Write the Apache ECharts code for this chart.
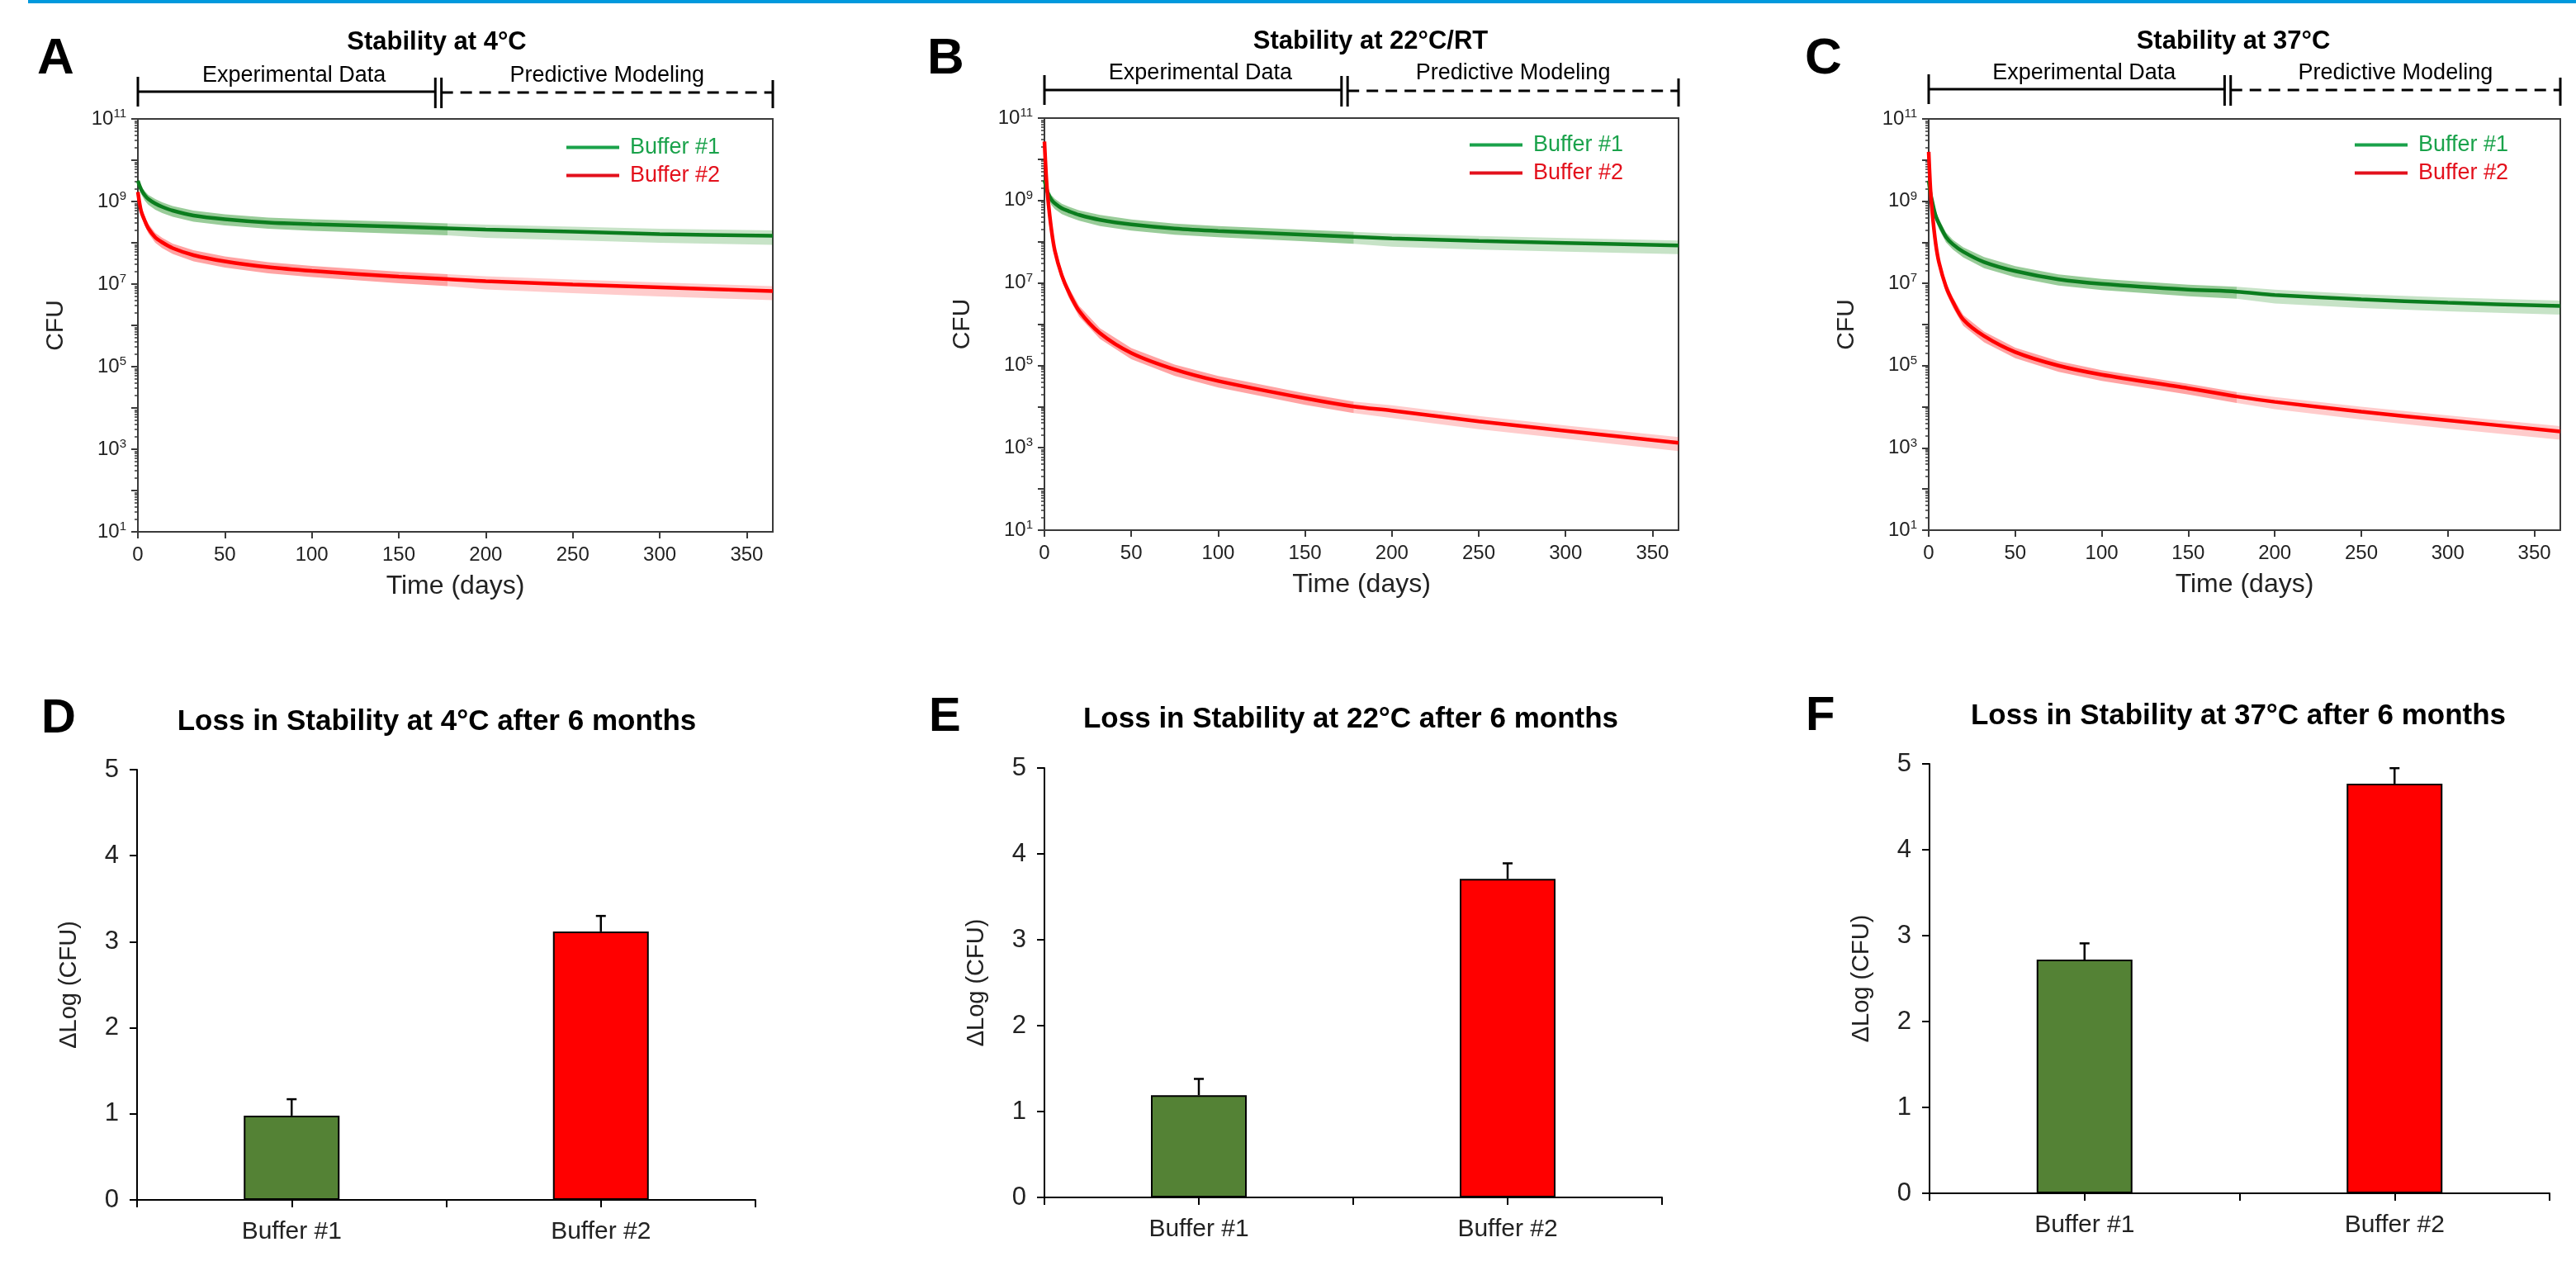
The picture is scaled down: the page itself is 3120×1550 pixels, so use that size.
<!DOCTYPE html>
<html><head><meta charset="utf-8">
<script src="https://cdn.jsdelivr.net/npm/echarts@6/dist/echarts.min.js"></script>
<style>html,body{margin:0;padding:0;background:#fff}#c{width:3120px;height:1550px}</style>
</head><body><div id="c"></div>
<script>
// ================= DATA =================
// time points (days) shared by all curves
const days = [0, 1, 2, 4, 6, 10, 14, 20, 32, 50, 75, 100, 150, 178, 200, 250, 300, 365];
// log10(CFU)
// Panel A (4 °C)
const aGreenMid = [9.50, 9.38, 9.28, 9.15, 9.06, 8.95, 8.87, 8.78, 8.66, 8.57, 8.49, 8.45, 8.39, 8.35, 8.32, 8.27, 8.21, 8.17];
const aGreenHi  = [9.55, 9.46, 9.37, 9.25, 9.16, 9.06, 8.98, 8.89, 8.78, 8.69, 8.61, 8.57, 8.51, 8.47, 8.44, 8.39, 8.34, 8.30];
const aGreenLo  = [9.44, 9.29, 9.17, 9.02, 8.92, 8.80, 8.72, 8.63, 8.51, 8.42, 8.34, 8.29, 8.22, 8.18, 8.12, 8.06, 8.00, 7.95];
const aRedMid   = [9.23, 8.95, 8.75, 8.53, 8.35, 8.13, 8.01, 7.87, 7.70, 7.55, 7.41, 7.32, 7.18, 7.12, 7.07, 6.99, 6.92, 6.83];
const aRedHi    = [9.28, 9.03, 8.84, 8.63, 8.46, 8.24, 8.12, 7.98, 7.82, 7.67, 7.53, 7.44, 7.30, 7.24, 7.19, 7.11, 7.04, 6.95];
const aRedLo    = [9.16, 8.85, 8.64, 8.41, 8.23, 8.00, 7.87, 7.73, 7.55, 7.40, 7.26, 7.17, 7.02, 6.95, 6.87, 6.78, 6.70, 6.61];
// Panel B (22 °C / RT)
const bGreenMid = [9.49, 9.33, 9.18, 9.02, 8.93, 8.81, 8.74, 8.65, 8.53, 8.42, 8.32, 8.26, 8.17, 8.12, 8.08, 8.02, 7.97, 7.91];
const bGreenHi  = [9.54, 9.41, 9.28, 9.13, 9.04, 8.92, 8.85, 8.76, 8.65, 8.54, 8.44, 8.38, 8.29, 8.24, 8.20, 8.14, 8.09, 8.03];
const bGreenLo  = [9.43, 9.24, 9.07, 8.89, 8.79, 8.67, 8.60, 8.51, 8.38, 8.27, 8.17, 8.11, 8.01, 7.95, 7.88, 7.81, 7.76, 7.70];
const bRedMid   = [10.43, 9.60, 9.05, 8.30, 7.78, 7.18, 6.78, 6.32, 5.78, 5.30, 4.90, 4.62, 4.20, 4.00, 3.90, 3.64, 3.41, 3.12];
const bRedHi    = [10.48, 9.67, 9.13, 8.39, 7.88, 7.29, 6.89, 6.44, 5.90, 5.42, 5.02, 4.74, 4.32, 4.12, 4.03, 3.77, 3.54, 3.26];
const bRedLo    = [10.37, 9.52, 8.96, 8.19, 7.66, 7.05, 6.64, 6.18, 5.64, 5.15, 4.74, 4.46, 4.04, 3.84, 3.72, 3.45, 3.22, 2.92];
// Panel C (37 °C)
const cGreenMid = [9.50, 9.20, 9.00, 8.65, 8.45, 8.13, 7.95, 7.77, 7.52, 7.30, 7.10, 6.99, 6.85, 6.80, 6.72, 6.61, 6.53, 6.45];
const cGreenHi  = [9.55, 9.28, 9.09, 8.76, 8.56, 8.24, 8.06, 7.88, 7.64, 7.42, 7.22, 7.11, 6.97, 6.92, 6.85, 6.74, 6.66, 6.58];
const cGreenLo  = [9.44, 9.11, 8.89, 8.53, 8.32, 8.00, 7.82, 7.63, 7.37, 7.15, 6.95, 6.84, 6.69, 6.63, 6.51, 6.40, 6.32, 6.24];
const cRedMid   = [10.20, 9.30, 8.75, 7.98, 7.50, 6.92, 6.55, 6.12, 5.72, 5.33, 5.00, 4.78, 4.45, 4.25, 4.12, 3.88, 3.67, 3.40];
const cRedHi    = [10.26, 9.39, 8.85, 8.09, 7.61, 7.03, 6.66, 6.23, 5.83, 5.44, 5.11, 4.89, 4.56, 4.36, 4.24, 4.00, 3.79, 3.53];
const cRedLo    = [10.13, 9.19, 8.63, 7.85, 7.37, 6.78, 6.41, 5.97, 5.57, 5.18, 4.85, 4.63, 4.30, 4.09, 3.94, 3.69, 3.47, 3.20];

const expEndDay = 178;                    // end of experimental band
const bracketDays = [0, 171, 174.5, 365]; // bracket: start, break1, break2, end

// bar panels (ΔLog CFU after 6 months)
const barCategories = ['Buffer #1', 'Buffer #2'];
const dLoss = [0.98, 3.12], dErr = [0.19, 0.18];
const eLoss = [1.19, 3.71], eErr = [0.19, 0.18];
const fLoss = [2.72, 4.77], fErr = [0.19, 0.18];

// tick labels
const xTickDays = [0, 50, 100, 150, 200, 250, 300, 350];
const yDecadeTicks = [1, 2, 3, 4, 5, 6, 7, 8, 9, 10, 11];
const yLabelExps = [1, 3, 5, 7, 9, 11];
const barYTicks = [0, 1, 2, 3, 4, 5];

const topTitles = ['Stability at 4°C', 'Stability at 22°C/RT', 'Stability at 37°C'];
const botTitles = ['Loss in Stability at 4°C after 6 months', 'Loss in Stability at 22°C after 6 months', 'Loss in Stability at 37°C after 6 months'];
const letters = ['A', 'B', 'C', 'D', 'E', 'F'];

// ================= STYLE / LAYOUT =================
const FONT = "'Liberation Sans', Arial, Helvetica, sans-serif";
const GREEN_LINE = '#0b7d1e', RED_LINE = '#ff0000';
const LEG_GREEN = '#1aa24b', LEG_RED = '#e3101c';
const topGrids = [
  {left: 167, top: 144, width: 769, height: 500},
  {left: 1265, top: 143, width: 768, height: 499},
  {left: 2336, top: 144, width: 765, height: 498}
];
const botGrids = [
  {left: 166, top: 932, width: 749, height: 521},
  {left: 1265, top: 930, width: 748, height: 520},
  {left: 2337, top: 925, width: 751, height: 520}
];
const panels = [
  {gMid: aGreenMid, gHi: aGreenHi, gLo: aGreenLo, rMid: aRedMid, rHi: aRedHi, rLo: aRedLo},
  {gMid: bGreenMid, gHi: bGreenHi, gLo: bGreenLo, rMid: bRedMid, rHi: bRedHi, rLo: bRedLo},
  {gMid: cGreenMid, gHi: cGreenHi, gLo: cGreenLo, rMid: cRedMid, rHi: cRedHi, rLo: cRedLo}
];
const bars = [[dLoss, dErr], [eLoss, eErr], [fLoss, fErr]];

// minor log ticks (2..9 x 10^n) in log units
const minorTicks = [];
for (let e = 1; e < 11; e++) for (let k = 2; k <= 9; k++) minorTicks.push(e + Math.log10(k));

const chart = echarts.init(document.getElementById('c'), null, {renderer: 'canvas'});

const grid = [], xAxis = [], yAxis = [], series = [], legend = [];

topGrids.forEach((g, p) => {
  grid.push(Object.assign({show: true, borderColor: '#3a3a3a', borderWidth: 2, backgroundColor: 'transparent'}, g));
  xAxis.push({
    type: 'value', gridIndex: p, min: 0, max: 365, interval: 50,
    axisLine: {show: true, lineStyle: {color: '#3a3a3a', width: 2}},
    axisTick: {show: true, length: 8, customValues: xTickDays, lineStyle: {color: '#3a3a3a', width: 2}},
    axisLabel: {customValues: xTickDays, fontSize: 24, color: '#222', margin: 16, fontFamily: FONT},
    splitLine: {show: false},
    name: 'Time (days)', nameLocation: 'middle', nameGap: 50,
    nameTextStyle: {fontSize: 32, color: '#222', fontFamily: FONT}
  });
  yAxis.push({
    type: 'value', gridIndex: p, min: 1, max: 11, interval: 1,
    axisLine: {show: true, lineStyle: {color: '#3a3a3a', width: 2}},
    axisTick: {show: true, length: 8, customValues: yDecadeTicks, lineStyle: {color: '#3a3a3a', width: 2}},
    axisLabel: {
      customValues: yLabelExps, margin: 14, color: '#222', fontFamily: FONT,
      formatter: v => '{b|10}{s|' + v + '}',
      rich: {b: {fontSize: 24, color: '#222', fontFamily: FONT}, s: {fontSize: 15, color: '#222', verticalAlign: 'top', fontFamily: FONT, padding: [0, 0, 12, 0]}}
    },
    splitLine: {show: false},
    name: 'CFU', nameLocation: 'middle', nameGap: 84, nameRotate: 90,
    nameTextStyle: {fontSize: 30, color: '#222', fontFamily: FONT}
  });
});
botGrids.forEach((g, q) => {
  grid.push(Object.assign({show: false}, g));
  xAxis.push({
    type: 'value', gridIndex: 3 + q, min: 0, max: 2, interval: 0.5,
    axisLine: {show: true, lineStyle: {color: '#000', width: 2}},
    axisTick: {show: true, length: 9, lineStyle: {color: '#000', width: 2}},
    axisLabel: {customValues: [0.5, 1.5], formatter: v => barCategories[Math.round(v - 0.5)], fontSize: 30, color: '#222', margin: 24, fontFamily: FONT},
    splitLine: {show: false}
  });
  yAxis.push({
    type: 'value', gridIndex: 3 + q, min: 0, max: 5, interval: 1,
    axisLine: {show: true, lineStyle: {color: '#000', width: 2}},
    axisTick: {show: true, length: 9, customValues: barYTicks, lineStyle: {color: '#000', width: 2}},
    axisLabel: {customValues: barYTicks, fontSize: 31, color: '#222', margin: 22, fontFamily: FONT},
    splitLine: {show: false},
    name: 'ΔLog (CFU)', nameLocation: 'middle', nameGap: 68, nameRotate: 90,
    nameTextStyle: {fontSize: 29, color: '#222', fontFamily: FONT}
  });
});
// minor-tick y axes for the log panels (indices 6..8)
topGrids.forEach((g, p) => {
  yAxis.push({
    type: 'value', gridIndex: p, min: 1, max: 11, position: 'left',
    axisLine: {show: false}, axisLabel: {show: false}, splitLine: {show: false},
    axisTick: {show: true, length: 4, customValues: minorTicks, lineStyle: {color: '#3a3a3a', width: 1.5}}
  });
});

function bandSeries(p, color, lo, hi, fromDay, toDay) {
  const data = [];
  days.forEach((d, i) => { if (d >= fromDay && d <= toDay) data.push([d, lo[i], hi[i]]); });
  return {
    type: 'custom', xAxisIndex: p, yAxisIndex: p, silent: true, z: 1, clip: true,
    data: data, encode: {x: 0, y: [1, 2]},
    renderItem: function (params, api) {
      if (params.dataIndex !== 0) return null;
      const top = data.map(d => api.coord([d[0], d[2]]));
      const bot = data.map(d => api.coord([d[0], d[1]])).reverse();
      return {type: 'polygon', shape: {points: top.concat(bot)}, style: {fill: color}};
    }
  };
}

panels.forEach((pd, p) => {
  series.push(bandSeries(p, 'rgba(0,128,0,0.40)', pd.gLo, pd.gHi, 0, expEndDay));
  series.push(bandSeries(p, 'rgba(0,128,0,0.22)', pd.gLo, pd.gHi, expEndDay, 365));
  series.push(bandSeries(p, 'rgba(255,0,0,0.36)', pd.rLo, pd.rHi, 0, expEndDay));
  series.push(bandSeries(p, 'rgba(255,0,0,0.20)', pd.rLo, pd.rHi, expEndDay, 365));
  series.push({
    type: 'line', name: 'Buffer #1', xAxisIndex: p, yAxisIndex: p, z: 3,
    data: days.map((d, i) => [d, pd.gMid[i]]), smooth: 0.3, symbol: 'none',
    lineStyle: {color: GREEN_LINE, width: 4.5}, itemStyle: {color: GREEN_LINE}
  });
  series.push({
    type: 'line', name: 'Buffer #2', xAxisIndex: p, yAxisIndex: p, z: 3,
    data: days.map((d, i) => [d, pd.rMid[i]]), smooth: 0.3, symbol: 'none',
    lineStyle: {color: RED_LINE, width: 4.5}, itemStyle: {color: RED_LINE}
  });
  legend.push({
    left: [681, 1775, 2847][p], top: [160, 157, 157][p], orient: 'vertical',
    icon: 'rect', itemWidth: 64, itemHeight: 4, itemGap: 7, selectedMode: false,
    textStyle: {fontSize: 27, fontFamily: FONT, padding: [0, 0, 0, 8]},
    data: [
      {name: 'Buffer #1', itemStyle: {color: LEG_GREEN}, textStyle: {color: LEG_GREEN}},
      {name: 'Buffer #2', itemStyle: {color: LEG_RED}, textStyle: {color: LEG_RED}}
    ]
  });
});

bars.forEach((b, q) => {
  const loss = b[0], err = b[1];
  series.push({
    type: 'bar', xAxisIndex: 3 + q, yAxisIndex: 3 + q, barWidth: 116, z: 2,
    data: loss.map((v, i) => ({value: [i + 0.5, v], itemStyle: {color: i === 0 ? '#548235' : '#ff0000', borderColor: '#000', borderWidth: 2}}))
  });
  series.push({
    type: 'custom', xAxisIndex: 3 + q, yAxisIndex: 3 + q, z: 5, silent: true,
    data: loss.map((v, i) => [i + 0.5, v, err[i]]),
    encode: {x: 0, y: 1},
    renderItem: function (params, api) {
      const x = api.value(0), v = api.value(1), e = api.value(2);
      const p0 = api.coord([x, v]), p1 = api.coord([x, v + e]);
      return {type: 'group', children: [
        {type: 'line', shape: {x1: p0[0], y1: p0[1], x2: p1[0], y2: p1[1]}, style: {stroke: '#000', lineWidth: 2.5}},
        {type: 'line', shape: {x1: p1[0] - 6, y1: p1[1], x2: p1[0] + 6, y2: p1[1]}, style: {stroke: '#000', lineWidth: 2.5}}
      ]};
    }
  });
});

chart.setOption({
  animation: false,
  backgroundColor: '#fff',
  textStyle: {fontFamily: FONT},
  grid: grid, xAxis: xAxis, yAxis: yAxis, series: series, legend: legend
});

// ================= ANNOTATIONS =================
function txt(text, x, y, size, weight, align) {
  return {type: 'text', x: x, y: y, silent: true, z: 10,
    style: {text: text, fontSize: size, fontWeight: weight, fontFamily: FONT, fill: '#000', align: align, verticalAlign: 'middle'}};
}
function seg(x1, y1, x2, y2, dash) {
  return {type: 'line', silent: true, z: 10, shape: {x1: x1, y1: y1, x2: x2, y2: y2},
    style: {stroke: '#000', lineWidth: 3, lineDash: dash || null}};
}
const g = [];
g.push({type: 'rect', silent: true, shape: {x: 34, y: 0, width: 3086, height: 4}, style: {fill: '#0099dd'}});
const letterPos = [[45, 72, 62], [1123, 72, 62], [2186, 72, 62], [50, 871, 58], [1125, 869, 58], [2187, 868, 58]];
letterPos.forEach((lp, i) => g.push(txt(letters[i], lp[0], lp[1], lp[2], 'bold', 'left')));
const topTitlePos = [[529, 51], [1660, 50], [2705, 50]];
topTitles.forEach((t, i) => g.push(txt(t, topTitlePos[i][0], topTitlePos[i][1], 31, 'bold', 'center')));
const botTitlePos = [[529, 874], [1636, 871], [2711, 867]];
botTitles.forEach((t, i) => g.push(txt(t, botTitlePos[i][0], botTitlePos[i][1], 35, 'bold', 'center')));
const bracketY = [111, 109, 108];
const bracketTextY = [92, 89, 89];
[0, 1, 2].forEach(p => {
  const xs = bracketDays.map(d => chart.convertToPixel({xAxisIndex: p}, d));
  const y = bracketY[p];
  g.push(seg(xs[0], y - 18, xs[0], y + 18));
  g.push(seg(xs[0], y, xs[1], y));
  g.push(seg(xs[1], y - 17, xs[1], y + 20));
  g.push(seg(xs[2], y - 17, xs[2], y + 20));
  g.push(seg(xs[2], y + 1, xs[3], y + 1, [14, 9]));
  g.push(seg(xs[3], y - 14, xs[3], y + 20));
  g.push(txt('Experimental Data', (xs[0] + xs[1]) / 2 + 9, bracketTextY[p], 27, 'normal', 'center'));
  g.push(txt('Predictive Modeling', (xs[2] + xs[3]) / 2, bracketTextY[p], 27, 'normal', 'center'));
});
chart.setOption({graphic: g});
</script>
</body></html>
